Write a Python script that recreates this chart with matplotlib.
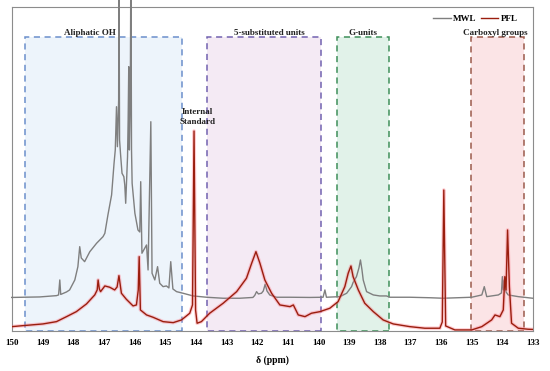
import numpy as np
import matplotlib
matplotlib.use("Agg")
import matplotlib.pyplot as plt
import matplotlib.patches as patches

plt.rcParams['font.family'] = ['Liberation Serif', 'DejaVu Serif']

# MWL spectrum (ppm, intensity)
mwl_ppm = [150.01, 149.10, 148.55, 148.48, 148.44, 148.41, 148.22, 148.12, 147.95, 147.85,
           147.79, 147.74, 147.63, 147.46, 147.24, 147.03, 146.97, 146.87, 146.75, 146.67,
           146.63, 146.59, 146.56, 146.52, 146.51, 146.49, 146.46, 146.41, 146.35, 146.32,
           146.29, 146.23, 146.21, 146.19, 146.17, 146.14, 146.12, 146.10, 146.08, 145.99,
           145.89, 145.83, 145.80, 145.76, 145.61, 145.56, 145.47, 145.43, 145.34, 145.25,
           145.18, 145.07, 144.96, 144.88, 144.82, 144.75, 144.63, 144.42, 144.09, 143.65,
           143.11, 142.57, 142.14, 142.08, 142.02, 141.96, 141.86, 141.80, 141.74, 141.68,
           141.59, 141.37, 140.93, 140.28, 139.85, 139.79, 139.74, 139.30, 139.08, 138.92,
           138.87, 138.76, 138.68, 138.63, 138.58, 138.54, 138.43, 138.21, 138.00, 137.78,
           137.67, 137.02, 136.36, 135.93, 135.00, 134.67, 134.59, 134.51, 134.13, 134.03,
           134.00, 133.97, 133.94, 133.88, 133.81, 133.48, 133.01]
mwl_int = [33.5, 34, 35.3, 36, 51, 36.5, 39, 41, 51, 64.3,
           84.3, 73, 69.3, 79.3, 87.7, 94.3, 97.7, 116, 136, 167.7,
           181, 224.3, 184.3, 231, 380, 191, 177.7, 157.7, 154.3, 146,
           127.7, 174.3, 211, 264.3, 181, 231, 380, 181, 147.7, 117.7,
           101, 99, 149.3, 77.7, 86, 61, 209.3, 57.7, 51, 64.3,
           47.7, 44.3, 45, 43, 69.3, 42, 39.3, 37.7, 35, 33.7,
           32.7, 32.7, 33.5, 35.5, 39.3, 37, 37.7, 40, 46.7, 40,
           36, 33.7, 33.7, 33.5, 33.7, 41, 33.7, 34.3, 37.7, 44.3,
           48.5, 54.3, 63, 71, 61, 51, 39.3, 36, 35, 35,
           33.7, 33.7, 33.2, 32.7, 33.7, 36, 44.3, 34.3, 36, 38,
           54.3, 41, 51, 39, 36, 34.3, 32.7]

# PFL spectrum
pfl_ppm = [150.00, 149.64, 148.99, 148.55, 148.22, 147.90, 147.57, 147.30, 147.22, 147.19,
           147.15, 147.11, 146.97, 146.81, 146.65, 146.57, 146.51, 146.43, 146.27, 146.05,
           145.94, 145.88, 145.85, 145.81, 145.61, 145.40, 145.07, 144.74, 144.47, 144.20,
           144.11, 144.06, 144.01, 143.96, 143.82, 143.55, 143.11, 142.67, 142.35, 142.18,
           142.04, 141.91, 141.75, 141.53, 141.26, 140.93, 140.82, 140.66, 140.44, 140.23,
           139.95, 139.63, 139.36, 139.14, 139.03, 138.94, 138.87, 138.70, 138.49, 138.21,
           137.89, 137.56, 137.02, 136.53, 136.04, 135.96, 135.91, 135.85, 135.55, 135.00,
           134.67, 134.35, 134.24, 134.08, 133.97, 133.92, 133.88, 133.83, 133.77, 133.70,
           133.48, 133.16, 133.00]
pfl_int = [4.3, 5.3, 7, 9.3, 14.3, 19.3, 27, 36, 41, 51,
           42, 39.3, 45, 43.7, 41, 44, 55.3, 37.7, 31.7, 25,
           26, 41, 74.3, 21, 16, 13.7, 9.3, 8.3, 11, 17.7,
           26, 200, 21, 7.7, 9.3, 17.7, 27.7, 39.3, 52.7, 67.7,
           79.3, 67.7, 51, 37.7, 26, 24.3, 26, 16, 14.3, 17.7,
           19.3, 22.7, 29.3, 44.3, 57.7, 65, 54.3, 41, 27.7, 19.3,
           11, 7, 4.3, 2.7, 2.7, 9, 141, 5, 1, 1,
           4.3, 11, 16, 14.3, 21, 54.3, 41, 101, 44.3, 7.7,
           2.7, 1.7, 1.5]

# highlighted regions: name, start, end, label x
regions = ["Aliphatic OH", "5-substituted units", "G-units", "Carboxyl groups"]
reg_start = [149.56, 143.63, 139.41, 135.01]
reg_end = [144.44, 139.92, 137.69, 133.30]
reg_label_x = [147.46, 141.59, 138.55, 134.24]
reg_fill = ['#edf4fb', '#f4eaf4', '#e1f2e9', '#fbe4e6']
reg_edge = ['#6b8fcc', '#7262b0', '#3f8f5a', '#9b5a4c']

fig = plt.figure(figsize=(5.5, 3.71), dpi=100)
ax = fig.add_axes([0.0218, 0.108, 0.9473, 0.873])

top = 294
for name, a, b, lx, fc, ec in zip(regions, reg_start, reg_end, reg_label_x, reg_fill, reg_edge):
    ax.add_patch(patches.Rectangle((b, 0), a - b, top, facecolor=fc, edgecolor=ec,
                                   linestyle=(0, (4, 3)), linewidth=1.1, zorder=1))
    ax.text(lx, top + 4, name, ha='center', va='center', fontsize=6.5,
            fontweight='bold', color='#222222', zorder=3)

ax.text(143.94, 214, "Internal\nStandard", ha='center', va='center', fontsize=6.5,
        fontweight='bold', color='#222222', linespacing=1.3, zorder=3)

ax.plot(mwl_ppm, mwl_int, color='#7f7f7f', linewidth=1.0, label='MWL', zorder=4,
        clip_on=False)
ax.plot(pfl_ppm, pfl_int, color='#ff6f80', linewidth=2.6, alpha=0.35, zorder=4)
ax.plot(pfl_ppm, pfl_int, color='#9a1e0e', linewidth=1.0, label='PFL', zorder=5)

ax.set_xlim(150, 133)
ax.set_ylim(0, 324)
ax.set_xticks(np.arange(150, 132, -1))
ax.set_yticks([])
ax.tick_params(axis='x', length=0, pad=6, labelsize=6.5)
for lab in ax.get_xticklabels():
    lab.set_fontweight('bold')
for s in ax.spines.values():
    s.set_color('#8c8c8c')
    s.set_linewidth(0.8)
ax.set_xlabel('δ (ppm)', fontsize=7, fontweight='bold', labelpad=6)

leg = ax.legend(loc='upper right', ncol=2, frameon=False, fontsize=6.5,
                handlelength=1.9, handletextpad=0.3, columnspacing=0.5,
                bbox_to_anchor=(0.987, 1.0))
for t in leg.get_texts():
    t.set_fontweight('bold')

fig.savefig('out.png', dpi=100)
